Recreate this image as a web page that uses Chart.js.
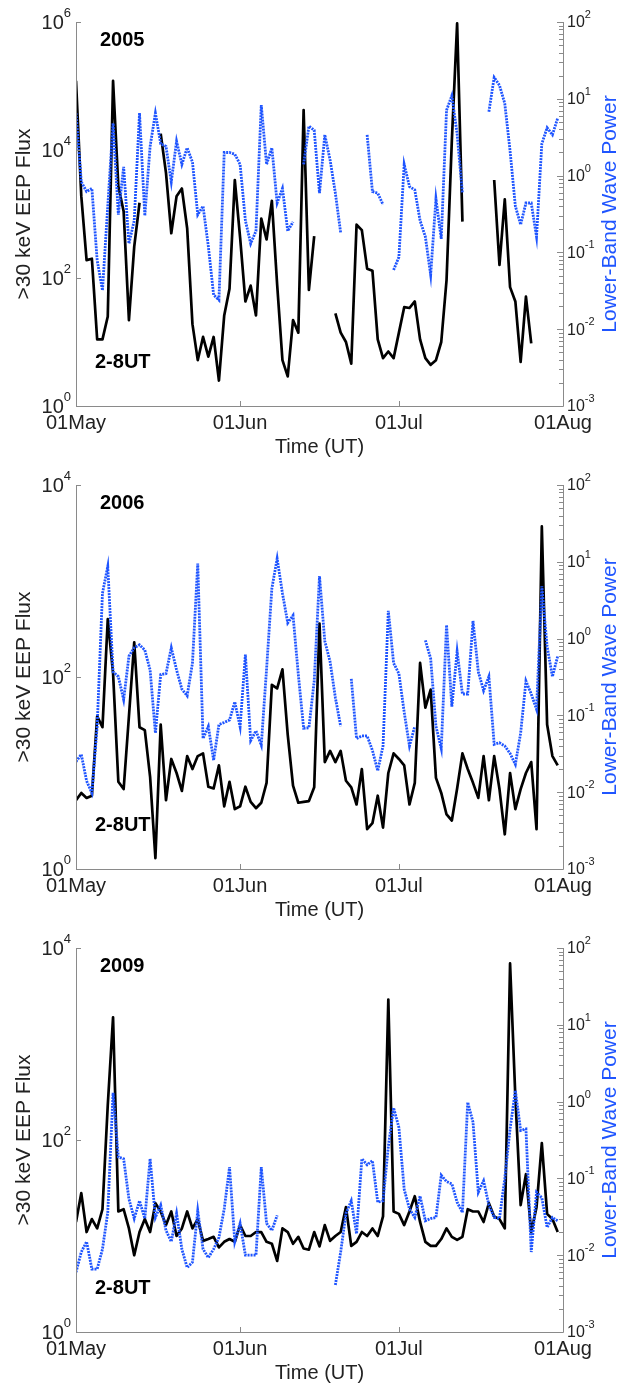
<!DOCTYPE html>
<html>
<head>
<meta charset="utf-8">
<title>EEP flux and lower-band wave power, May-July</title>
<script src="https://cdn.jsdelivr.net/npm/chart.js@4.4.1/dist/chart.umd.min.js"></script>
<style>
  html, body { margin: 0; padding: 0; background: #fff; }
  body { width: 619px; height: 1384px; overflow: hidden; position: relative; }
  canvas { position: absolute; left: 0; }
</style>
</head>
<body>
<canvas id="p2005" width="619" height="463" style="top:0px"></canvas>
<canvas id="p2006" width="619" height="463" style="top:463px"></canvas>
<canvas id="p2009" width="619" height="463" style="top:926px"></canvas>
<script>
const FONT = "'Liberation Sans', Arial, Helvetica, sans-serif";
const AXIS_GREY = '#8a8a8a';
const INK = '#222';
const BLUE = '#1f55ff';

// day index 0 = 01 May, 92 = 01 Aug
const DAY_TICKS = [0, 31, 61, 92];
const DAY_LABELS = ['01May', '01Jun', '01Jul', '01Aug'];

const FLUX_TICKS_2005 = [1, 1e2, 1e4, 1e6];
const FLUX_TICKS = [1, 1e2, 1e4];
const WAVE_DECADES = [-3, -2, -1, 0, 1];

// >30 keV EEP flux, daily 2-8 UT means (null = no data)
const flux2005 = [
  120000, 1900, 190, 200, 11, 11, 25, 120000, 2700, 1100,
  22, 310, 1500, null, null, null, 18000, 4400, 500, 1900,
  2500, 600, 19, 5.2, 12, 5.9, 12, 2.5, 26, 68,
  3400, 430, 43, 76, 26, 850, 400, 1600, 79, 5.2,
  2.9, 22, 14, 42000, 65, 450, null, null, null, 28,
  14, 10, 4.6, 680, 560, 140, 130, 11, 5.6, 7.1,
  5.6, 14, 35, 34, 43, 11, 5.6, 4.4, 5.2, 10,
  93, 14000, 950000, 760, null, null, null, null, null, 3400,
  160, 1700, 72, 43, 4.9, 51, 9.5, null, null, null,
  null, null, null
];
const flux2006 = [
  5.2, 6.2, 5.5, 5.8, 39, 30, 400, 110, 8.1, 6.8,
  39, 230, 30, 28, 9.1, 1.3, 32, 5.2, 14, 10,
  6.5, 15, 11, 15, 16, 7.2, 6.9, 12, 4.5, 8.1,
  4.2, 4.5, 7.2, 5.0, 4.3, 4.9, 7.9, 83, 76, 120,
  25, 7.4, 4.9, 5.0, 5.1, 7.1, 360, 13, 17, 13,
  17, 8.3, 7.1, 4.7, 11, 2.6, 3.0, 5.8, 2.7, 10,
  16, 14, 12, 4.7, 7.9, 140, 48, 74, 8.9, 6.2,
  3.7, 3.2, 6.9, 16, 11, 7.9, 5.5, 15, 5.2, 15,
  6.8, 2.3, 10, 4.2, 6.8, 10, 13, 2.6, 3700, 32,
  15, 12, null
];
const flux2009 = [
  14, 28, 11, 15, 12, 19, 230, 1900, 18, 19,
  12, 6.3, 11, 15, 11, 22, 18, 13, 18, 10,
  12, 18, 12, 15, 8.9, 9.3, 9.8, 7.6, 8.7, 9.3,
  8.7, 13, 10, 10, 11, 11, 8.7, 8.3, 5.5, 12,
  11, 8.3, 9.8, 7.4, 7.2, 11, 7.8, 13, 8.9, 10,
  11, 20, 7.9, 8.7, 11, 10, 12, 10, 16, 2900,
  18, 17, 13, 18, 26, 14, 8.7, 7.9, 7.9, 9.3,
  12, 9.8, 9.1, 9.8, 19, 18, 18, 14, 22, 16,
  15, 12, 6900, 280, 21, 44, 11, 20, 93, 17,
  15, 11, null
];

// lower-band wave power
const wave2005 = [
  6.5, 0.83, 0.62, 0.68, 0.079, 0.032, 0.4, 4.8, 0.31, 1.3,
  0.13, 0.26, 6.5, 0.3, 2.4, 6.5, 2.6, 2.4, 0.83, 2.8,
  1.4, 2.3, 1.5, 0.31, 0.4, 0.12, 0.028, 0.024, 2.0, 2.0,
  1.9, 1.4, 0.26, 0.13, 0.19, 8.3, 1.4, 2.3, 0.44, 0.68,
  0.19, 0.25, null, 1.4, 4.4, 3.9, 0.59, 3.4, 1.6, 0.59,
  0.18, null, null, null, null, 3.4, 0.62, 0.59, 0.42, null,
  0.059, 0.087, 1.4, 0.72, 0.65, 0.26, 0.16, 0.051, 0.5, 0.15,
  7.1, 11, 3.5, 0.59, null, null, null, null, 6.8, 19,
  15, 8.7, 2.1, 0.4, 0.23, 0.44, 0.44, 0.16, 2.6, 4.2,
  3.4, 5.6, null
];
const wave2006 = [
  0.025, 0.031, 0.014, 0.0098, 0.072, 3.9, 8.7, 0.37, 0.32, 0.16,
  0.59, 0.76, 0.83, 0.71, 0.39, 0.059, 0.34, 0.35, 0.76, 0.39,
  0.22, 0.18, 0.48, 9.5, 0.05, 0.072, 0.026, 0.076, 0.081, 0.087,
  0.15, 0.071, 0.62, 0.047, 0.063, 0.041, 0.4, 4.5, 11, 3.9,
  1.6, 2.0, 0.34, 0.068, 0.069, 0.28, 6.5, 0.93, 0.5, 0.17,
  0.072, null, 0.3, 0.05, 0.054, 0.054, 0.035, 0.019, 0.04, 2.3,
  0.48, 0.35, 0.11, 0.04, 0.072, null, 0.95, 0.55, 0.072, 0.037,
  1.5, 0.13, 0.68, 0.19, 0.19, 1.7, 0.37, 0.21, 0.32, 0.042,
  0.044, 0.04, 0.032, 0.023, 0.059, 0.28, 0.19, 0.12, 4.8, 0.79,
  0.32, 0.59, null
];
const wave2009 = [
  0.006, 0.011, 0.015, 0.0066, 0.0066, 0.012, 0.036, 1.3, 0.19, 0.18,
  0.054, 0.03, 0.051, 0.03, 0.18, 0.031, 0.045, 0.021, 0.015, 0.035,
  0.012, 0.0069, 0.0081, 0.038, 0.012, 0.0093, 0.012, 0.017, 0.04, 0.14,
  0.015, 0.026, 0.01, 0.01, 0.01, 0.14, 0.026, 0.021, 0.033, null,
  null, null, null, null, null, null, null, null, null, 0.0041,
  0.011, 0.035, 0.051, 0.019, 0.18, 0.15, 0.17, 0.049, 0.051, 0.26,
  0.83, 0.46, 0.072, 0.04, 0.031, 0.059, 0.028, 0.03, 0.031, 0.11,
  0.091, 0.085, 0.049, 0.036, 0.98, 0.54, 0.066, 0.093, 0.045, 0.031,
  0.03, 0.1, 0.44, 1.4, 0.42, 0.44, 0.011, 0.066, 0.056, 0.023,
  0.031, 0.028, null
];

// log axis ticks 1..9 per decade on the wave power axis
const WAVE_TICKS = [];
WAVE_DECADES.forEach(e => {
  for (let m = 1; m <= 9; m++) WAVE_TICKS.push(m * Math.pow(10, e));
});
WAVE_TICKS.push(100);

const isPow10 = v => Math.abs(Math.log10(v) - Math.round(Math.log10(v))) < 1e-9;

function pts(arr) {
  return arr.map((v, i) => ({ x: i, y: v }));
}

// "10" with a raised exponent
function drawPower(ctx, exp, x, y, size, sup, anchor) {
  const base = '10', ex = String(exp);
  ctx.font = size + 'px ' + FONT;
  const wb = ctx.measureText(base).width;
  ctx.font = sup + 'px ' + FONT;
  const we = ctx.measureText(ex).width;
  const left = anchor === 'right' ? x - wb - we : x;
  ctx.textAlign = 'left';
  ctx.textBaseline = 'middle';
  ctx.font = size + 'px ' + FONT;
  ctx.fillText(base, left, y);
  ctx.font = sup + 'px ' + FONT;
  ctx.fillText(ex, left + wb, y - size * 0.5);
}

// matlab-ish frame: inward ticks, power labels, right title, panel notes
const frame = {
  id: 'frame',
  afterDraw(chart, args, opts) {
    const { ctx, chartArea: a } = chart;
    const sx = chart.scales.x, yl = chart.scales.yFlux, yr = chart.scales.yWave;
    ctx.save();
    ctx.strokeStyle = AXIS_GREY;
    ctx.lineWidth = 1;
    ctx.beginPath();
    ctx.moveTo(a.left + 0.5, a.top);
    ctx.lineTo(a.left + 0.5, a.bottom + 0.5);
    ctx.lineTo(a.right + 0.5, a.bottom + 0.5);
    ctx.lineTo(a.right + 0.5, a.top);
    sx.ticks.forEach(t => {
      const px = Math.round(sx.getPixelForValue(t.value)) + 0.5;
      ctx.moveTo(px, a.bottom);
      ctx.lineTo(px, a.bottom - 5);
    });
    yl.ticks.forEach(t => {
      const py = Math.round(yl.getPixelForValue(t.value)) + 0.5;
      ctx.moveTo(a.left, py);
      ctx.lineTo(a.left + 5, py);
    });
    yr.ticks.forEach(t => {
      const py = Math.round(yr.getPixelForValue(t.value)) + 0.5;
      ctx.moveTo(a.right, py);
      ctx.lineTo(a.right - (isPow10(t.value) ? 6 : 4), py);
    });
    ctx.stroke();

    ctx.fillStyle = INK;
    yl.ticks.forEach(t => {
      const py = yl.getPixelForValue(t.value);
      drawPower(ctx, Math.round(Math.log10(t.value)), a.left - 5, py + 1, 20, 13, 'right');
    });
    yr.ticks.filter(t => isPow10(t.value)).forEach(t => {
      const py = yr.getPixelForValue(t.value);
      drawPower(ctx, Math.round(Math.log10(t.value)), a.right + 4, py + 1, 16, 11, 'left');
    });

    ctx.save();
    ctx.translate(610, (a.top + a.bottom) / 2);
    ctx.rotate(-Math.PI / 2);
    ctx.fillStyle = BLUE;
    ctx.font = '21px ' + FONT;
    ctx.textAlign = 'center';
    ctx.textBaseline = 'middle';
    ctx.fillText('Lower-Band Wave Power', 0, 0);
    ctx.restore();

    ctx.fillStyle = '#000';
    ctx.font = 'bold 20px ' + FONT;
    ctx.textAlign = 'left';
    ctx.textBaseline = 'middle';
    ctx.fillText(opts.year, 100, a.top + 18);
    ctx.fillText('2-8UT', 95, a.top + 340);
    ctx.restore();
  }
};

function panel(id, year, flux, wave, fluxTicks) {
  return new Chart(document.getElementById(id), {
    type: 'line',
    data: {
      datasets: [
        {
          label: '>30 keV EEP Flux',
          data: pts(flux),
          yAxisID: 'yFlux',
          borderColor: '#000',
          borderWidth: 2.7,
          borderJoinStyle: 'round',
          pointRadius: 0,
          tension: 0,
          spanGaps: false,
          order: 2
        },
        {
          label: 'Lower-Band Wave Power',
          data: pts(wave),
          yAxisID: 'yWave',
          borderColor: BLUE,
          borderWidth: 2.8,
          borderDash: [2, 1],
          pointRadius: 0,
          tension: 0,
          spanGaps: false,
          order: 1
        }
      ]
    },
    options: {
      responsive: false,
      animation: false,
      devicePixelRatio: 1,
      layout: { padding: { top: 22, left: 0, right: 0, bottom: 0 } },
      plugins: {
        legend: { display: false },
        tooltip: { enabled: false },
        frame: { year: year }
      },
      scales: {
        x: {
          type: 'linear',
          min: 0,
          max: 92,
          grid: { display: false, drawTicks: false },
          border: { display: false },
          afterBuildTicks: s => { s.ticks = DAY_TICKS.map(v => ({ value: v })); },
          afterFit: s => { s.height = 57; },
          ticks: {
            autoSkip: false,
            maxRotation: 0,
            padding: 5,
            color: INK,
            font: { family: FONT, size: 20 },
            callback: v => DAY_LABELS[DAY_TICKS.indexOf(v)]
          },
          title: {
            display: true,
            text: 'Time (UT)',
            color: INK,
            font: { family: FONT, size: 20, lineHeight: 1 },
            padding: { top: 0, bottom: 6 }
          }
        },
        yFlux: {
          type: 'logarithmic',
          position: 'left',
          min: fluxTicks[0],
          max: fluxTicks[fluxTicks.length - 1],
          grid: { display: false, drawTicks: false },
          border: { display: false },
          afterBuildTicks: s => { s.ticks = fluxTicks.map(v => ({ value: v })); },
          afterFit: s => { s.width = 76; },
          ticks: { display: false },
          title: {
            display: true,
            text: '>30 keV EEP Flux',
            color: INK,
            font: { family: FONT, size: 21, lineHeight: 1 },
            padding: { top: 14, bottom: 0 }
          }
        },
        yWave: {
          type: 'logarithmic',
          position: 'right',
          min: 1e-3,
          max: 1e2,
          grid: { display: false, drawTicks: false },
          border: { display: false },
          afterBuildTicks: s => { s.ticks = WAVE_TICKS.map(v => ({ value: v })); },
          afterFit: s => { s.width = 56; },
          ticks: { display: false }
        }
      }
    },
    plugins: [frame]
  });
}

panel('p2005', '2005', flux2005, wave2005, FLUX_TICKS_2005);
panel('p2006', '2006', flux2006, wave2006, FLUX_TICKS);
panel('p2009', '2009', flux2009, wave2009, FLUX_TICKS);
</script>
</body>
</html>
